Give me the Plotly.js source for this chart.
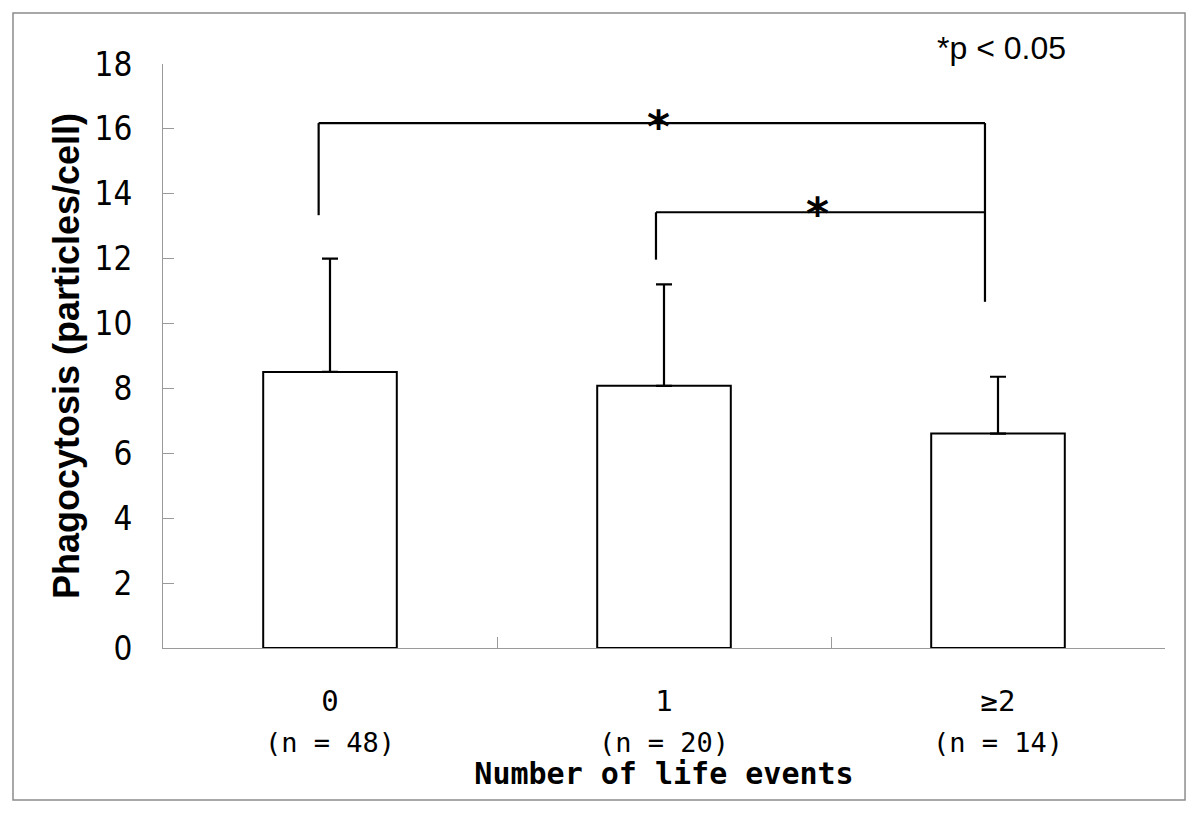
<!DOCTYPE html>
<html><head><meta charset="utf-8">
<script src="https://cdn.plot.ly/plotly-3.0.1.min.js"></script>
<style>html,body{margin:0;padding:0;background:#fff}#chart{width:1200px;height:813px}</style>
</head><body><div id="chart"></div>
<script>
// ---- data ----
const categories = ["0", "1", "≥2"];
const nLabels = ["(n = 48)", "(n = 20)", "(n = 14)"];
const meanValues = [8.51, 8.08, 6.61];
const sdValues = [3.49, 3.13, 1.75];
const yTickValues = [0, 2, 4, 6, 8, 10, 12, 14, 16, 18];
// significance brackets (x in category index units, y in data units)
const bracketLeft = [-0.034, 0.976];
const bracketRight = [1.961, 1.961];
const bracketTop = [16.18, 13.43];
const bracketLeftBottom = [13.34, 11.97];
const bracketRightBottom = [10.67, 13.43];
const starX = [0.985, 1.461];
const starY = [16.18, 13.5];
const sigNote = "*p < 0.05";

// ---- chart ----
const grey = "#9a9a9a";
const trace = {
  type: "bar",
  x: categories,
  y: meanValues,
  width: 0.4,
  marker: {color: "#ffffff", line: {color: "#000000", width: 2}},
  error_y: {type: "data", symmetric: false, array: sdValues, arrayminus: sdValues.map(() => 0),
            color: "#000000", thickness: 2.2, width: 8},
  hoverinfo: "none",
  showlegend: false
};

const shapes = [];
for (let i = 0; i < bracketTop.length; i++) {
  const ln = {type: "line", xref: "x", yref: "y", line: {color: "#000000", width: 2.2}};
  shapes.push(Object.assign({}, ln, {x0: bracketLeft[i], x1: bracketLeft[i], y0: bracketLeftBottom[i], y1: bracketTop[i]}));
  shapes.push(Object.assign({}, ln, {x0: bracketLeft[i], x1: bracketRight[i], y0: bracketTop[i], y1: bracketTop[i]}));
  if (bracketRightBottom[i] !== bracketTop[i]) {
    shapes.push(Object.assign({}, ln, {x0: bracketRight[i], x1: bracketRight[i], y0: bracketTop[i], y1: bracketRightBottom[i]}));
  }
}
// outer frame
shapes.push({type: "rect", xref: "paper", yref: "paper", x0: -0.1497, x1: 1.02, y0: -0.2603, y1: 1.0873,
             line: {color: "#8c8c8c", width: 1.5}, fillcolor: "rgba(0,0,0,0)", layer: "below"});

const annotations = [];
categories.forEach((c, i) => {
  annotations.push({xref: "x", yref: "paper", x: i, y: -0.161, text: nLabels[i], showarrow: false,
    xanchor: "center", yanchor: "middle", font: {family: "DejaVu Sans Mono, monospace", size: 27, color: "#000"}});
});
starX.forEach((sx, i) => {
  annotations.push({xref: "x", yref: "y", x: sx, y: starY[i], text: "*", showarrow: false,
    xanchor: "center", yanchor: "middle", yshift: -3,
    font: {family: "DejaVu Sans, sans-serif", size: 44, color: "#000", weight: "bold"}});
});
annotations.push({xref: "paper", yref: "paper", x: 0.7705, y: 1.027, text: sigNote, showarrow: false,
  xanchor: "left", yanchor: "middle", font: {family: "Liberation Sans, Arial, sans-serif", size: 32, color: "#000"}});

const layout = {
  width: 1200, height: 813,
  margin: {l: 163, r: 35, t: 64, b: 165},
  paper_bgcolor: "#ffffff", plot_bgcolor: "#ffffff",
  bargap: 0.6,
  xaxis: {
    type: "category",
    range: [-0.5, 2.5],
    showline: true, linecolor: grey, linewidth: 1,
    ticks: "inside", ticklen: 11, tickcolor: grey, tickwidth: 1,
    tickson: "boundaries",
    showgrid: false, zeroline: false,
    ticklabelstandoff: 27,
    tickfont: {family: "DejaVu Sans Mono, monospace", size: 29, color: "#000"},
    title: {text: "Number of life events", standoff: 46,
            font: {family: "DejaVu Sans Mono, monospace", size: 30, color: "#000", weight: "bold"}}
  },
  yaxis: {
    range: [0, 18],
    tickvals: yTickValues,
    ticktext: yTickValues.map(String),
    showline: true, linecolor: grey, linewidth: 1,
    ticks: "inside", ticklen: 11, tickcolor: grey, tickwidth: 1,
    showgrid: false, zeroline: false,
    ticklabelstandoff: 23,
    tickfont: {family: "Liberation Sans Narrow, DejaVu Sans Condensed, sans-serif", size: 33, color: "#000"},
    title: {text: "Phagocytosis (particles/cell)", standoff: 4,
            font: {family: "Liberation Sans, Arial, sans-serif", size: 36, color: "#000", weight: "bold"}}
  },
  shapes: shapes,
  annotations: annotations,
  showlegend: false
};

Plotly.newPlot("chart", [trace], layout, {displayModeBar: false, staticPlot: true});
</script>
</body></html>
